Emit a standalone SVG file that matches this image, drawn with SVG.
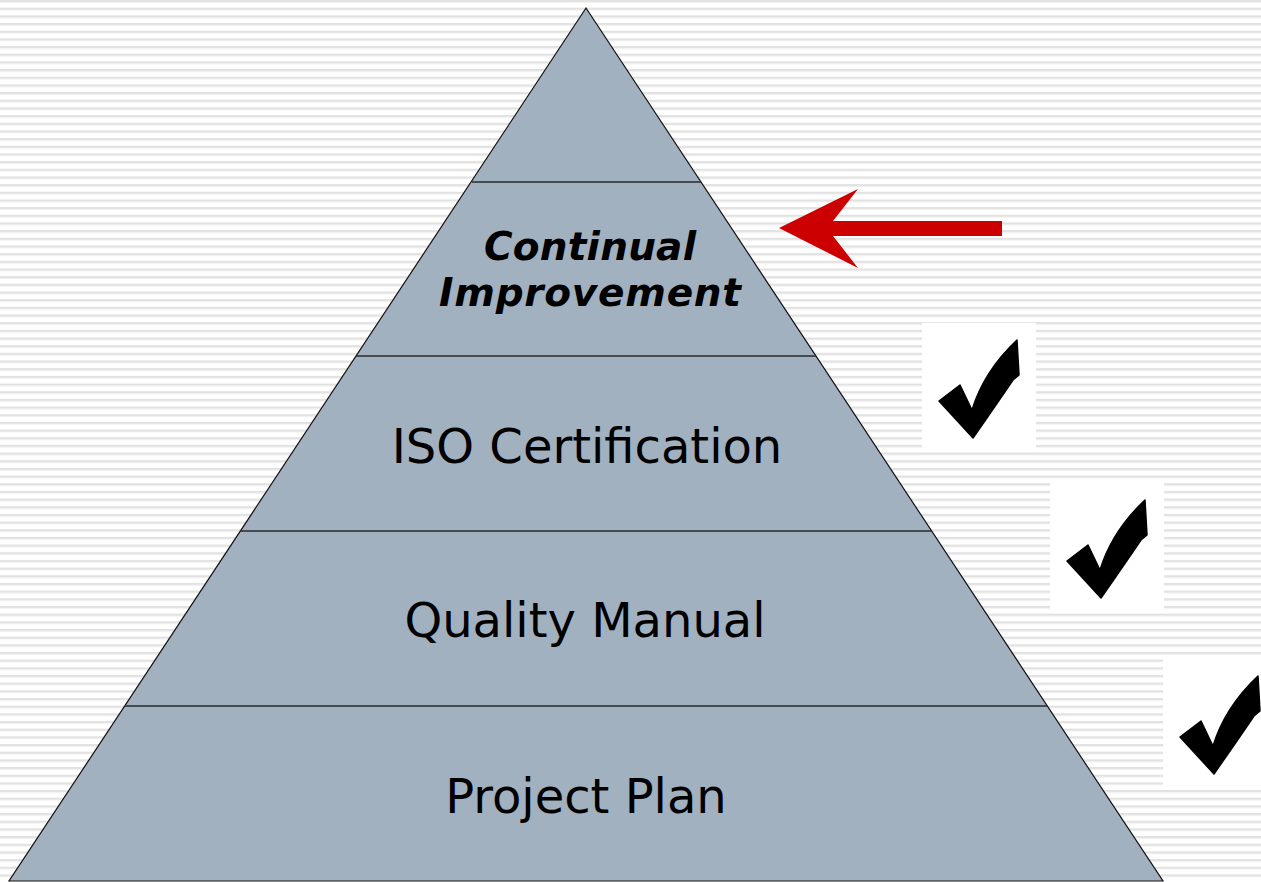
<svg xmlns="http://www.w3.org/2000/svg" width="1261" height="882" viewBox="0 0 1261 882">
<style>
.lvl{font-family:"DejaVu Sans",Verdana,sans-serif;font-size:48px;fill:#000;text-anchor:middle}
.ci{font-family:"DejaVu Sans",Verdana,sans-serif;font-size:39px;font-weight:bold;font-style:italic;fill:#000;text-anchor:middle}
.div{stroke:#2a2a2a;stroke-width:1.5}
.box{fill:#fff}
</style>
<defs>
<pattern id="stripes" patternUnits="userSpaceOnUse" width="20" height="7.67">
<rect x="0" y="0" width="20" height="7.67" fill="#fff"/>
<rect x="0" y="0" width="20" height="2" fill="#e2e2e2"/>
<rect x="0" y="2" width="20" height="1" fill="#f0f0f0"/>
</pattern>
<path id="check" d="M17,78 L38,62 L50,87 Q62,48 95,17 L97,52 L91,57 Q74,82 51,115 Z" fill="#000" stroke="#000" stroke-width="1.5" stroke-linejoin="round"/>
</defs>
<rect width="1261" height="882" fill="url(#stripes)"/>
<g id="pyramid">
<polygon points="586,8 1163,881 9,881" fill="#a2b1bf" stroke="#111" stroke-width="1.2"/>
</g>
<g id="connectors">
<line class="div" x1="472" y1="182" x2="701" y2="182"/>
<line class="div" x1="356" y1="356" x2="816" y2="356"/>
<line class="div" x1="240" y1="531" x2="932" y2="531"/>
<line class="div" x1="125" y1="706" x2="1047" y2="706"/>
</g>
<g id="node-continual">
<text class="ci" x="590" y="260" textLength="212" lengthAdjust="spacing">Continual</text>
<text class="ci" x="590" y="306" textLength="302" lengthAdjust="spacing">Improvement</text>
</g>
<g id="node-iso"><text class="lvl" x="587" y="463">ISO Certification</text></g>
<g id="node-quality"><text class="lvl" x="585" y="637">Quality Manual</text></g>
<g id="node-project"><text class="lvl" x="586" y="813">Project Plan</text></g>
<g id="arrow">
<polygon points="779,228 858,189 833,221 1002,221 1002,236 833,236 858,268" fill="#cc0000"/>
</g>
<g id="check1" transform="translate(922,323)">
<rect class="box" width="114" height="127"/>
<use href="#check"/>
</g>
<g id="check2" transform="translate(1050,483)">
<rect class="box" width="114" height="126"/>
<use href="#check"/>
</g>
<g id="check3" transform="translate(1163,657)">
<rect class="box" width="98" height="128"/>
<use href="#check" transform="translate(0,2)"/>
</g>
</svg>
